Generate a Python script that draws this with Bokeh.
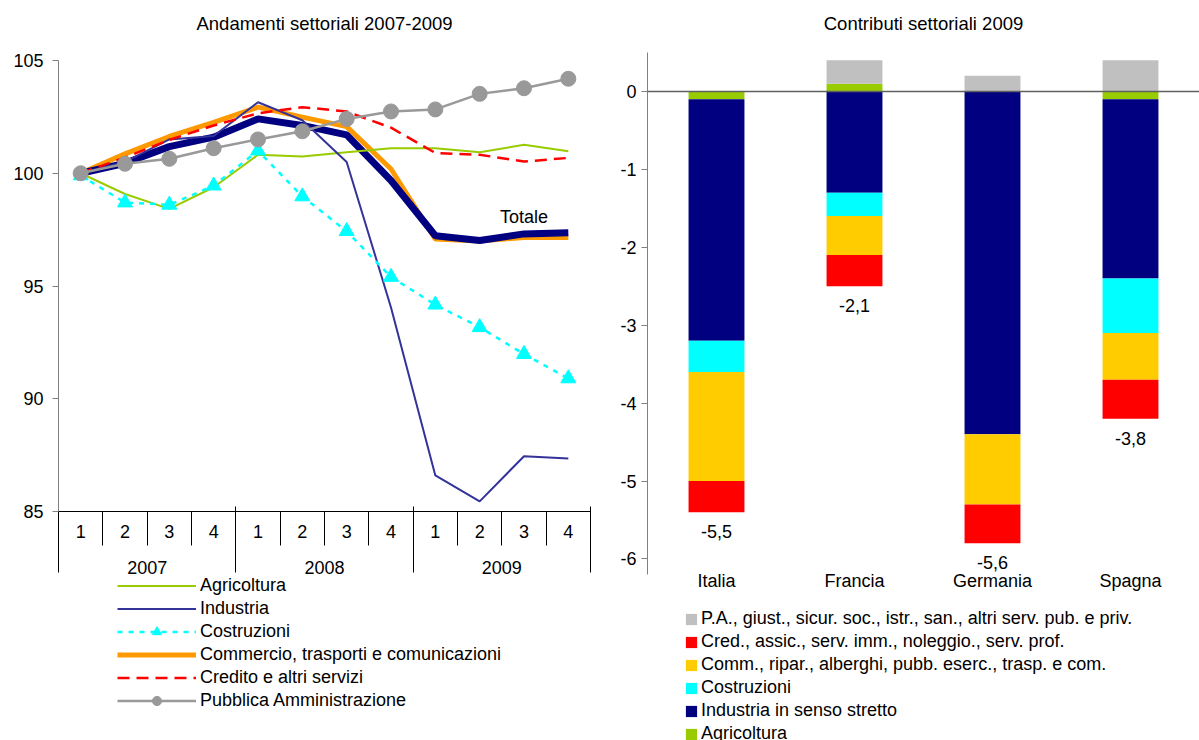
import numpy as np
from bokeh.plotting import figure
from bokeh.models import (Range1d, LinearAxis, FixedTicker, Legend, LegendItem,
                          Label, LabelSet, Span, ColumnDataSource)
from bokeh.core.properties import value
from bokeh.layouts import row, column
from bokeh.embed import file_html
from bokeh.resources import INLINE

FONT = "Liberation Sans"
FS = "18px"

# ---------------- left chart data ----------------
quarters = list(range(1, 13))
quarter_labels = ["1", "2", "3", "4"] * 3
years = ["2007", "2008", "2009"]
left_ticks = [85, 90, 95, 100, 105]

agricoltura = [100.0, 99.08, 98.42, 99.38, 100.82, 100.74, 100.93, 101.11, 101.11, 100.93, 101.26, 100.98]
industria = [100.0, 100.5, 101.5, 101.65, 103.15, 102.35, 100.5, 94.05, 86.6, 85.45, 87.45, 87.35]
costruzioni = [99.9, 98.7, 98.6, 99.45, 101.0, 98.97, 97.43, 95.4, 94.17, 93.17, 91.98, 90.9]
commercio = [100.0, 100.86, 101.63, 102.26, 102.93, 102.49, 102.07, 100.19, 97.08, 97.0, 97.15, 97.15]
credito = [100.0, 100.7, 101.48, 102.12, 102.66, 102.93, 102.74, 102.02, 100.9, 100.82, 100.52, 100.68]
pubblica = [100.0, 100.42, 100.64, 101.11, 101.5, 101.86, 102.41, 102.74, 102.83, 103.52, 103.77, 104.19]
totale = [100.0, 100.44, 101.18, 101.6, 102.41, 102.12, 101.7, 99.68, 97.23, 97.02, 97.31, 97.36]

# ---------------- right chart data ----------------
countries = ["Italia", "Francia", "Germania", "Spagna"]
right_ticks = [-6, -5, -4, -3, -2, -1, 0]
c_agricoltura = [-0.1, 0.1, 0.0, -0.1]
c_industria = [-3.1, -1.3, -4.4, -2.3]
c_costruzioni = [-0.4, -0.3, 0.0, -0.7]
c_commercio = [-1.4, -0.5, -0.9, -0.6]
c_credito = [-0.4, -0.4, -0.5, -0.5]
c_pa = [0.0, 0.3, 0.2, 0.4]
totals_text = ["-5,5", "-2,1", "-5,6", "-3,8"]

sector_names = ["Agricoltura", "Industria in senso stretto", "Costruzioni",
                "Comm., ripar., alberghi, pubb. eserc., trasp. e com.",
                "Cred., assic., serv. imm., noleggio., serv. prof.",
                "P.A., giust., sicur. soc., istr., san., altri serv. pub. e priv."]
sector_colors = ["#99CC00", "#000080", "#00FFFF", "#FFCC00", "#FF0000", "#C0C0C0"]

# line styles of the left chart
ls_agri = dict(line_color="#99CC00", line_width=2)
ls_ind = dict(line_color="#333399", line_width=2)
ls_cost = dict(line_color="#00FFFF", line_width=2.5, line_dash="5 6")
ms_cost = dict(marker="triangle", size=15, fill_color="#00FFFF", line_color="#00FFFF")
ls_comm = dict(line_color="#FF9900", line_width=5)
ls_cred = dict(line_color="#FF0000", line_width=2.5, line_dash="12 7")
ls_pa = dict(line_color="#999999", line_width=2.5)
ms_pa = dict(marker="circle", size=15, fill_color="#999999", line_color="#999999")
ls_tot = dict(line_color="#000080", line_width=7)


def style_title(p, text, spacer, tick_at):
    # invisible axis (one hidden tick, empty label) between frame and title: vertical spacing only
    sp = LinearAxis(ticker=FixedTicker(ticks=[tick_at]))
    sp.major_label_overrides = {tick_at: ""}
    sp.axis_line_color = None
    sp.major_tick_line_color = None
    sp.minor_tick_line_color = None
    sp.major_tick_out = spacer
    sp.major_tick_in = 0
    sp.minor_tick_out = 0
    sp.minor_tick_in = 0
    sp.major_label_standoff = 0
    p.add_layout(sp, "above")
    p.title.text = text
    p.title.align = "center"
    p.title.vertical_align = "bottom"
    p.title.text_font = FONT
    p.title.text_font_size = "18.5px"
    p.title.text_font_style = "normal"
    p.title.text_color = "black"
    p.title.standoff = 10


def style_yaxis(ax, standoff, ticks):
    ax.ticker = FixedTicker(ticks=ticks)
    ax.major_label_overrides = {t: str(t) for t in ticks}
    ax.axis_line_color = "#808080"
    ax.major_tick_line_color = "#808080"
    ax.major_tick_out = 6
    ax.major_tick_in = 0
    ax.minor_tick_line_color = None
    ax.minor_tick_out = 0
    ax.major_label_text_font = FONT
    ax.major_label_text_font_size = FS
    ax.major_label_text_color = "black"
    ax.major_label_standoff = standoff


def style_legend(leg):
    leg.spacing = 0
    leg.padding = 0
    leg.margin = 0
    leg.border_line_color = None
    leg.background_fill_alpha = 0
    leg.label_text_font = FONT
    leg.label_text_font_size = FS
    leg.label_text_color = "black"


def legend_fig(width, height, x_range, y_range):
    f = figure(width=width, height=height, x_range=x_range, y_range=y_range,
               output_backend="svg", toolbar_location=None, x_axis_location=None,
               y_axis_location=None, min_border_left=0, min_border_right=0,
               min_border_top=0, min_border_bottom=0)
    f.outline_line_color = None
    f.grid.visible = False
    f.background_fill_color = None
    f.border_fill_color = None
    return f


# ================= LEFT CHART =================
p1 = figure(width=600, height=587, x_range=Range1d(0.5, 12.5), y_range=Range1d(85, 105),
            output_backend="svg", toolbar_location=None,
            min_border_left=58, min_border_right=10, min_border_top=60, min_border_bottom=76)
p1.outline_line_color = None
p1.grid.visible = False
style_yaxis(p1.left[0], 9, left_ticks)

bounds = [q - 0.5 for q in quarters] + [quarters[-1] + 0.5]
xa = p1.below[0]
xa.ticker = FixedTicker(ticks=quarters, minor_ticks=bounds)
xa.major_label_overrides = {q: lab for q, lab in zip(quarters, quarter_labels)}
xa.major_tick_out = 0
xa.major_tick_in = 0
xa.minor_tick_out = 34
xa.minor_tick_in = 0
xa.minor_tick_line_color = "black"
xa.axis_line_color = "black"
xa.major_label_text_font = FONT
xa.major_label_text_font_size = FS
xa.major_label_text_color = "black"
xa.major_label_standoff = -21

year_centers = [float(np.mean(quarters[i * 4:(i + 1) * 4])) for i in range(3)]
year_bounds = [quarters[i * 4] - 0.5 for i in range(3)] + [quarters[-1] + 0.5]
ya = LinearAxis(ticker=FixedTicker(ticks=year_centers, minor_ticks=year_bounds))
ya.major_label_overrides = {c: y for c, y in zip(year_centers, years)}
ya.major_tick_out = 0
ya.major_tick_in = 0
ya.minor_tick_in = 34
ya.minor_tick_out = 32
ya.minor_tick_line_color = "black"
ya.axis_line_color = None
ya.major_label_text_font = FONT
ya.major_label_text_font_size = FS
ya.major_label_text_color = "black"
ya.major_label_standoff = -12
p1.add_layout(ya, "below")

style_title(p1, "Andamenti settoriali 2007-2009", 22, quarters[0])

p1.line(quarters, commercio, **ls_comm)
p1.line(quarters, totale, **ls_tot)
p1.line(quarters, agricoltura, **ls_agri)
p1.line(quarters, industria, **ls_ind)
p1.line(quarters, costruzioni, **ls_cost)
p1.scatter(quarters, costruzioni, **ms_cost)
p1.line(quarters, credito, **ls_cred)
p1.line(quarters, pubblica, **ls_pa)
p1.scatter(quarters, pubblica, **ms_pa)

p1.add_layout(Label(x=11, y=98.08, text="Totale", text_align="center", text_baseline="middle",
                    text_font=FONT, text_font_size=FS, text_color="black"))

# legend of the left chart (its own canvas; the series are drawn there out of view)
l1 = legend_fig(600, 168, Range1d(0.5, 12.5), Range1d(300, 301))
l1.margin = (-15, 0, 0, 0)
g_agri = l1.line(quarters, agricoltura, **ls_agri)
g_ind = l1.line(quarters, industria, **ls_ind)
g_cost_l = l1.line(quarters, costruzioni, **ls_cost)
g_cost_m = l1.scatter(quarters, costruzioni, **ms_cost)
g_comm = l1.line(quarters, commercio, **ls_comm)
g_cred = l1.line(quarters, credito, **ls_cred)
g_pa_l = l1.line(quarters, pubblica, **ls_pa)
g_pa_m = l1.scatter(quarters, pubblica, **ms_pa)
leg1 = Legend(items=[
    LegendItem(label="Agricoltura", renderers=[g_agri]),
    LegendItem(label="Industria", renderers=[g_ind]),
    LegendItem(label="Costruzioni", renderers=[g_cost_l, g_cost_m]),
    LegendItem(label="Commercio, trasporti e comunicazioni", renderers=[g_comm]),
    LegendItem(label="Credito e altri servizi", renderers=[g_cred]),
    LegendItem(label="Pubblica Amministrazione", renderers=[g_pa_l, g_pa_m]),
], location=(59, 28))
style_legend(leg1)
leg1.glyph_width = 79
leg1.glyph_height = 23
leg1.label_height = 23
leg1.label_standoff = 4
l1.add_layout(leg1)

# ================= RIGHT CHART =================
xpos = [i + 0.5 for i in range(len(countries))]   # slot centres of the countries
p2 = figure(width=599, height=593, x_range=Range1d(0, len(countries)), y_range=Range1d(-6.2, 0.5),
            output_backend="svg", toolbar_location=None,
            min_border_left=47, min_border_right=0, min_border_top=52, min_border_bottom=17)
p2.outline_line_color = None
p2.grid.visible = False
style_yaxis(p2.left[0], 5, right_ticks)

xb = p2.below[0]
xb.ticker = FixedTicker(ticks=xpos)
xb.major_label_overrides = {x: c for x, c in zip(xpos, countries)}
xb.axis_line_color = None
xb.major_tick_line_color = None
xb.minor_tick_line_color = None
xb.major_tick_out = 0
xb.minor_tick_out = 0
xb.major_label_text_font = FONT
xb.major_label_text_font_size = FS
xb.major_label_text_color = "black"
xb.major_label_standoff = -4

style_title(p2, "Contributi settoriali 2009", 14, xpos[0])

values = [c_agricoltura, c_industria, c_costruzioni, c_commercio, c_credito, c_pa]
pos = np.zeros(len(countries))
neg = np.zeros(len(countries))
bar_sources = []
for vals, col in zip(values, sector_colors):
    v = np.array(vals, dtype=float)
    bottom = np.where(v < 0, neg + v, pos)
    top = np.where(v < 0, neg, pos + v)
    neg = neg + np.minimum(v, 0)
    pos = pos + np.maximum(v, 0)
    src = ColumnDataSource(dict(x=xpos, country=countries, top=top, bottom=bottom))
    bar_sources.append(src)
    p2.vbar(x="x", top="top", bottom="bottom", width=0.405, source=src,
            fill_color=col, line_color=None)

p2.add_layout(Span(location=0, dimension="width", line_color="#606060", line_width=1.5))

lab_src = ColumnDataSource(dict(x=xpos, y=neg, text=totals_text))
p2.add_layout(LabelSet(x="x", y="y", text="text", source=lab_src, text_align="center",
                       text_baseline="top", y_offset=-13, text_font=value(FONT),
                       text_font_size=value(FS), text_color="black"))

# legend of the right chart (its own canvas; the bars are drawn there out of view)
l2 = legend_fig(599, 147, Range1d(0, len(countries)), Range1d(50, 51))
proxies = [l2.vbar(x="x", top="top", bottom="bottom", width=0.405, source=src,
                   fill_color=col, line_color=None)
           for src, col in zip(bar_sources, sector_colors)]
leg2 = Legend(items=[LegendItem(label=n, renderers=[r])
                     for n, r in reversed(list(zip(sector_names, proxies)))],
              location=(37, -5))
style_legend(leg2)
leg2.glyph_width = 14
leg2.glyph_height = 14
leg2.label_height = 23
leg2.label_standoff = 3
l2.add_layout(leg2)

layout = row(column(p1, l1), column(p2, l2))
open("out.html", "w").write(file_html(layout, INLINE))
